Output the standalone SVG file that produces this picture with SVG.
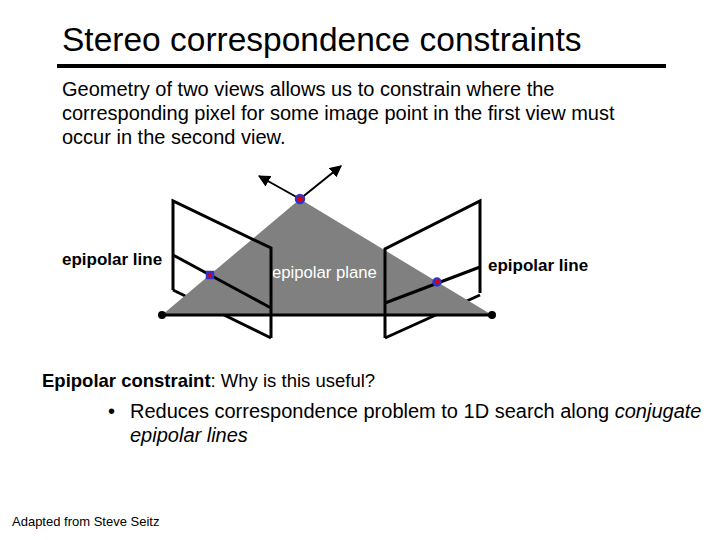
<svg xmlns="http://www.w3.org/2000/svg" width="720" height="540" viewBox="0 0 720 540">
<defs><marker id="ah" viewBox="0 0 10 10" refX="9" refY="5" markerWidth="6" markerHeight="6" orient="auto"><path d="M0,0L10,5L0,10z" fill="#000"/></marker></defs>
<style>text{font-family:"Liberation Sans",Arial,sans-serif}.l{stroke:#000;stroke-width:3;fill:none}.pt{fill:#d00;stroke:#33c;stroke-width:2.5}</style>
<rect width="720" height="540" fill="#fff"/>
<text x="62" y="51" font-size="33.5">Stereo correspondence constraints</text>
<line x1="57" y1="66" x2="666" y2="66" stroke="#000" stroke-width="4"/>
<text font-size="20"><tspan x="62" y="96">Geometry of two views allows us to constrain where the</tspan><tspan x="62" y="120">corresponding pixel for some image point in the first view must</tspan><tspan x="62" y="144">occur in the second view.</tspan></text>
<g id="planes-back"><line class="l" x1="173" y1="290" x2="271" y2="338"/><line class="l" x1="385" y1="338" x2="480" y2="295"/></g>
<g id="epipolar-plane"><polygon points="162,315 300,199 492,315" fill="#808080"/><text x="272" y="278" font-size="16.7" fill="#fff">epipolar plane</text></g>
<g id="left-view"><polyline class="l" points="173,290 173,201 271,248 271,338"/><line class="l" x1="173" y1="255" x2="271" y2="308"/></g>
<g id="right-view"><polyline class="l" points="480,293 480,201 385,249 385,338"/><line class="l" x1="385" y1="303" x2="480" y2="267"/></g>
<g id="connectors"><line class="l" x1="162" y1="315" x2="492" y2="315"/><line stroke="#000" stroke-width="2" x1="300" y1="199" x2="259" y2="176" marker-end="url(#ah)"/><line stroke="#000" stroke-width="2" x1="300" y1="199" x2="341" y2="166" marker-end="url(#ah)"/></g>
<g id="points"><circle cx="162" cy="315" r="4"/><circle cx="492" cy="315" r="4"/><circle class="pt" cx="300" cy="199" r="4"/><rect class="pt" x="207" y="272" width="6" height="6"/><circle class="pt" cx="437" cy="282" r="3.5"/></g>
<text x="62" y="265" font-size="17" font-weight="bold">epipolar line</text>
<text x="488" y="271" font-size="17" font-weight="bold">epipolar line</text>
<text x="42" y="387" font-size="18.5"><tspan font-weight="bold">Epipolar constraint</tspan>: Why is this useful?</text>
<text x="108" y="418" font-size="20">•</text>
<text font-size="20"><tspan x="130" y="418">Reduces correspondence problem to 1D search along <tspan font-style="italic">conjugate</tspan></tspan><tspan x="130" y="442" font-style="italic">epipolar lines</tspan></text>
<text x="12" y="526" font-size="13">Adapted from Steve Seitz</text>
</svg>
